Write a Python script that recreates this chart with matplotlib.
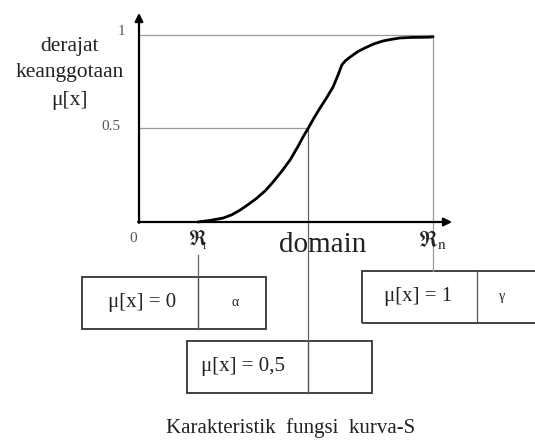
import matplotlib
matplotlib.use("Agg")
import matplotlib.pyplot as plt
from matplotlib.patches import Rectangle

plt.rcParams["font.family"] = ["Liberation Serif", "DejaVu Serif"]
plt.rcParams["mathtext.fontset"] = "stix"

# S-curve membership function: domain points and membership degree
curve_x = [2.0, 2.4, 2.86, 3.15, 3.44, 3.72, 4.01, 4.3, 4.56, 4.85, 5.14,
           5.4, 5.58, 5.75, 5.95, 6.16, 6.38, 6.6, 6.78, 6.9, 7.02, 7.18,
           7.45, 7.76, 8.0, 8.3, 8.6, 8.88, 9.3, 9.83, 10.0]
curve_y = [0.0, 0.008, 0.021, 0.038, 0.064, 0.094, 0.128, 0.168, 0.214,
           0.27, 0.332, 0.402, 0.455, 0.5, 0.556, 0.61, 0.664, 0.722, 0.79,
           0.84, 0.862, 0.882, 0.912, 0.936, 0.953, 0.968, 0.977, 0.984,
           0.987, 0.988, 0.99]

r1, beta, rn = 2.0, 5.75, 10.0          # ℜ1, midpoint, ℜn
y_ticks = [0, 0.5, 1]
y_tick_labels = ["0", "0.5", "1"]
box_labels = ["μ[x] = 0", "μ[x] = 1", "μ[x] = 0,5"]
box_params = ["α", "γ", ""]

fig = plt.figure(figsize=(5.35, 4.41), dpi=100)
ax = fig.add_axes([0, 0, 1, 1])
ax.set_xlim(-4.728, 13.469)
ax.set_ylim(-1.171, 1.187)
ax.axis("off")

grey = "#9a9a9a"
ink = "#222222"

# guide lines
ax.plot([0, rn], [1, 1], color=grey, lw=0.9)
ax.plot([0, beta], [0.5, 0.5], color=grey, lw=0.9)
ax.plot([rn, rn], [1, -0.262], color=grey, lw=0.9)
ax.plot([beta, beta], [0.5, -0.914], color="#666666", lw=0.9)
ax.plot([r1, r1], [-0.176, -0.572], color="#666666", lw=0.9)

# axes with arrow heads
ax.annotate("", xy=(0, 1.118), xytext=(0, -0.005),
            arrowprops=dict(arrowstyle="-|>", color="black", lw=1.6,
                            mutation_scale=12, shrinkA=0, shrinkB=0))
ax.annotate("", xy=(10.65, 0), xytext=(-0.03, 0),
            arrowprops=dict(arrowstyle="-|>", color="black", lw=1.6,
                            mutation_scale=12, shrinkA=0, shrinkB=0))

# membership curve
ax.plot(curve_x, curve_y, color="black", lw=2.0,
        solid_capstyle="round", solid_joinstyle="round")

# y tick labels
tick_pos = {0: (-0.2, -0.086), 0.5: (-0.63, 0.508), 1: (-0.45, 1.016)}
for t, lab in zip(y_ticks, y_tick_labels):
    x, y = tick_pos[t]
    ax.text(x, y, lab, fontsize=11, color="#555555", ha="right" if t else "center",
            va="center")

# y-axis title
ax.text(-2.35, 0.936, "derajat", fontsize=15.5, color=ink, ha="center", va="center")
ax.text(-2.35, 0.797, "keanggotaan", fontsize=15.5, color=ink, ha="center", va="center")
ax.text(-2.35, 0.652, "μ[x]", fontsize=15.5, color=ink, ha="center", va="center")

# x-axis labels
ax.text(r1, -0.096, r"$\Re_{\!\!\!_1}$", fontsize=15, color=ink, ha="center", va="center")
ax.text(6.26, -0.123, "domain", fontsize=21, color=ink, ha="center", va="center")
ax.text(rn, -0.096, r"$\Re_{\mathrm{n}}$", fontsize=16, color=ink, ha="center", va="center")

# parameter boxes
boxes = [
    (-1.939, 4.320, r1, -0.572, -0.294),
    (7.585, 13.8, 11.50, -0.540, -0.262),
    (1.633, 7.925, beta, -0.914, -0.636),
]
label_x = [0.10, 9.49, 3.54]
param_x = [3.27, 12.35, 0]
for (x0, x1, xd, y0, y1), lab, par, lx, px in zip(boxes, box_labels, box_params,
                                                   label_x, param_x):
    ax.add_patch(Rectangle((x0, y0), x1 - x0, y1 - y0, fill=False,
                           edgecolor="#333333", lw=1.3, clip_on=False))
    ax.plot([xd, xd], [y0, y1], color="#555555", lw=0.9)
    yc = (y0 + y1) / 2
    ax.text(lx, yc, lab, fontsize=15, color=ink, ha="center", va="center")
    if par:
        ax.text(px, yc, par, fontsize=10, color=ink, ha="center", va="center")

ax.text(5.14, -1.102, "Karakteristik  fungsi  kurva-S", fontsize=15,
        color=ink, ha="center", va="center")

fig.savefig("out.png", dpi=100)
